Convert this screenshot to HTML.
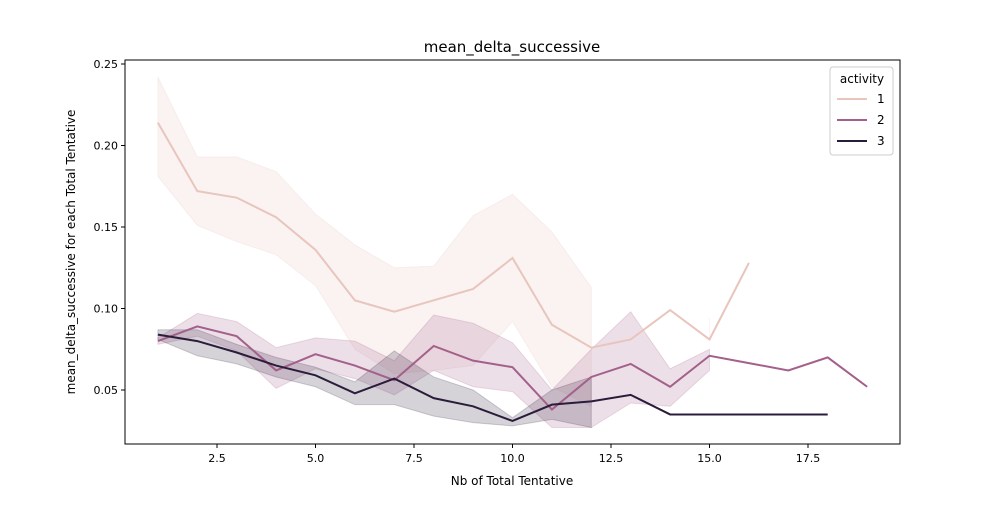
<!DOCTYPE html>
<html><head><meta charset="utf-8"><style>
body{margin:0;background:#fff}
svg{font-family:"DejaVu Sans","Liberation Sans",sans-serif}
</style></head><body>
<svg id="chart" width="1000" height="500" viewBox="0 0 1000 500" xmlns="http://www.w3.org/2000/svg">
<rect width="1000" height="500" fill="#fff"/>
<g id="bands"></g><g id="lines"></g>
<rect x="125" y="60" width="775" height="384" fill="none" stroke="#000" stroke-width="1"/>
<g id="xticks"></g><g id="yticks"></g>
<text x="512" y="52" font-size="15" text-anchor="middle">mean_delta_successive</text>
<text x="512" y="485" font-size="12" text-anchor="middle">Nb of Total Tentative</text>
<text transform="translate(75,252) rotate(-90)" font-size="12" text-anchor="middle">mean_delta_successive for each Total Tentative</text>
<g>
<rect x="830" y="67" width="63" height="88" rx="3" fill="#fff" fill-opacity="0.8" stroke="#ccc"/>
<text x="862" y="83" font-size="12" text-anchor="middle">activity</text>
<g id="legend-items"></g>
</g>
</svg>
<script>
const xs1=[1,2,3,4,5,6,7,8,9,10,11,12,13,14,15,16];
const mean1=[.214,.172,.168,.156,.136,.105,.098,.105,.112,.131,.090,.076,.081,.099,.081,.128];
const hi1=[.242,.193,.193,.184,.158,.139,.125,.126,.157,.170,.147,.113,null,null,.094,null];
const lo1=[.181,.151,.141,.133,.114,.075,.060,.062,.065,.092,.052,.040,null,null,.081,null];
const xs2=[1,2,3,4,5,6,7,8,9,10,11,12,13,14,15,16,17,18,19];
const mean2=[.080,.089,.083,.062,.072,.065,.056,.077,.068,.064,.038,.058,.066,.052,.071,.0665,.062,.070,.052];
const hi2=[.082,.097,.092,.076,.082,.080,.068,.096,.091,.079,.050,.075,.098,.063,.075,null,null,null,null];
const lo2=[.078,.083,.074,.051,.063,.057,.047,.062,.052,.049,.027,.027,.042,.040,.062,null,null,null,null];
const xs3=[1,2,3,4,5,6,7,8,9,10,11,12,13,14,15,16,17,18];
const mean3=[.084,.080,.073,.065,.059,.048,.057,.045,.040,.031,.041,.043,.047,.035,.035,.035,.035,.035];
const hi3=[.087,.087,.078,.070,.064,.055,.074,.058,.050,.033,.050,.058,null,null,null,null,null,null];
const lo3=[.081,.071,.066,.058,.052,.041,.041,.034,.030,.028,.032,.027,null,null,null,null,null,null];
const xTicks=[2.5,5.0,7.5,10.0,12.5,15.0,17.5];
const yTicks=[0.05,0.10,0.15,0.20,0.25];
const seriesNames=["1","2","3"];
const colors=["#e8c5bd","#a3608a","#2b1c3c"];
const X=v=>118.5+v*39.4;
const Y=v=>390-(v-0.05)*1630;
const NS="http://www.w3.org/2000/svg";
function mk(t,a,p){const e=document.createElementNS(NS,t);for(const k in a)e.setAttribute(k,a[k]);p.appendChild(e);return e;}
const series=[[xs1,mean1,hi1,lo1],[xs2,mean2,hi2,lo2],[xs3,mean3,hi3,lo3]];
const bands=document.getElementById('bands'),lines=document.getElementById('lines');
series.forEach((s,i)=>{
 const [xs,m,h,l]=s;
 // split into contiguous runs of defined CI
 let runs=[],cur=[];
 xs.forEach((x,j)=>{ if(h[j]!=null){cur.push(j);} else {if(cur.length)runs.push(cur);cur=[];} });
 if(cur.length)runs.push(cur);
 runs.forEach(r=>{
  let d;
  if(r.length===1){const j=r[0];d='M'+X(xs[j])+','+Y(h[j])+'L'+X(xs[j])+','+Y(l[j]);}
  else d=r.map((j,k)=>(k?'L':'M')+X(xs[j])+','+Y(h[j])).join('')+r.slice().reverse().map(j=>'L'+X(xs[j])+','+Y(l[j])).join('')+'Z';
  const b=mk('path',{d:d,fill:colors[i],'fill-opacity':0.2,stroke:colors[i],'stroke-opacity':0.2},bands);
  
  
 });
 const ln=mk('path',{d:xs.map((x,j)=>(j?'L':'M')+X(x)+','+Y(m[j])).join(''),fill:'none',stroke:colors[i],'stroke-width':2},lines);
 
 
});
const xt=document.getElementById('xticks');
xTicks.forEach(v=>{
 mk('line',{x1:X(v),x2:X(v),y1:444,y2:448,stroke:'#000'},xt);
 const t=mk('text',{x:X(v),y:462,'font-size':11,'text-anchor':'middle'},xt);t.textContent=v.toFixed(1);
 
 
});
const yt=document.getElementById('yticks');
yTicks.forEach(v=>{
 mk('line',{x1:121,x2:125,y1:Y(v),y2:Y(v),stroke:'#000'},yt);
 const t=mk('text',{x:118,y:Y(v)+4,'font-size':11,'text-anchor':'end'},yt);t.textContent=v.toFixed(2);
 
 
});
const lg=document.getElementById('legend-items');
seriesNames.forEach((n,i)=>{
 const y=99+i*21;
 const g=mk('g',{},lg);
 
 
 mk('line',{x1:837,x2:867,y1:y,y2:y,stroke:colors[i],'stroke-width':2},g);
 const t=mk('text',{x:877,y:y+4,'font-size':12},g);t.textContent=n;
});
</script>
</body></html>
